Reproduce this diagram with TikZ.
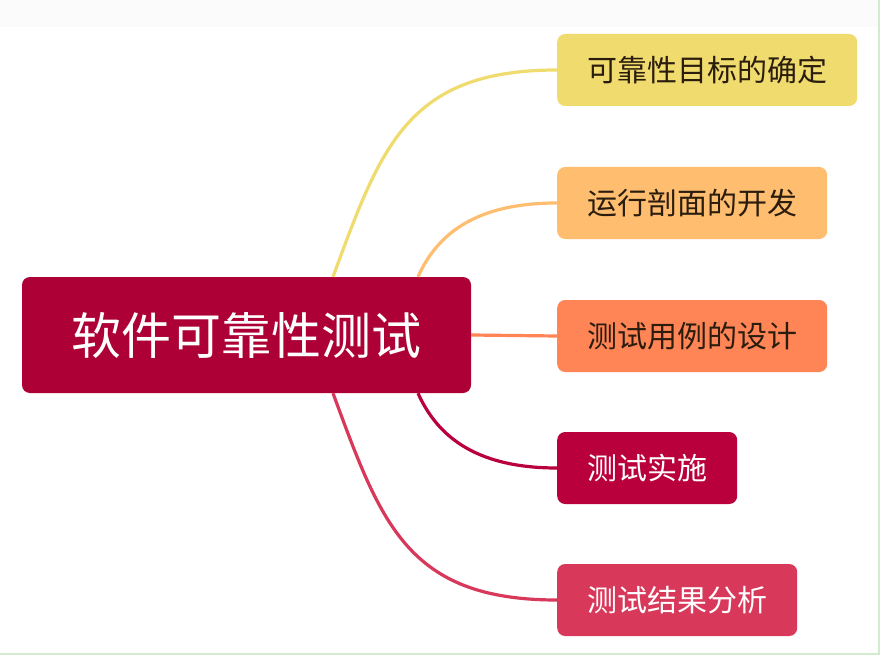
\documentclass[tikz,border=0pt]{standalone}
\usepackage{fontspec}
\newfontfamily\cjk{Noto Sans CJK SC}
\definecolor{rootred}{HTML}{AD0036}
\definecolor{goalc}{HTML}{F0DC6E}
\definecolor{profc}{HTML}{FFBD70}
\definecolor{casec}{HTML}{FF8456}
\definecolor{runc}{HTML}{B9003D}
\definecolor{anac}{HTML}{D8385A}
\definecolor{darktext}{HTML}{2B1D0E}
\definecolor{edgegreen}{HTML}{D3ECCF}
\definecolor{topband}{HTML}{FBFBFB}
\begin{document}
\begin{tikzpicture}[x=1pt,y=-1pt,
    box/.style={rounded corners=8pt,minimum height=72pt,inner xsep=30pt,inner ysep=0pt,anchor=west,font=\cjk\fontsize{30}{36}\selectfont},
    link/.style={line width=3.2pt}]
    \useasboundingbox (0,0) rectangle (880,655);
    \fill[white] (0,0) rectangle (880,655);
    \fill[topband] (0,0) rectangle (880,27);
    \fill[edgegreen] (877.5,0) rectangle (880,655);
    \fill[edgegreen] (0,652.5) rectangle (880,655);
    \node[rounded corners=8pt,fill=rootred,text=white,minimum width=449pt,minimum height=116pt,inner sep=0pt,font=\cjk\fontsize{50}{60}\selectfont] (T) at (246.5,335) {软件可靠性测试};
    \node[box,fill=goalc,text=darktext] (A) at (557,70) {可靠性目标的确定};
    \node[box,fill=profc,text=darktext] (B) at (557,203) {运行剖面的开发};
    \node[box,fill=casec,text=darktext] (C) at (557,336) {测试用例的设计};
    \node[box,fill=runc,text=white] (D) at (557,468) {测试实施};
    \node[box,fill=anac,text=white] (E) at (557,600) {测试结果分析};
    \draw[link,goalc] ([xshift=86.5pt]T.north) .. controls +(48,-130) and +(-150,0) .. (A.west);
    \draw[link,profc] ([xshift=171.5pt]T.north) .. controls +(18,-40) and +(-85,0) .. (B.west);
    \draw[link,casec] (T.east) -- (C.west);
    \draw[link,runc] ([xshift=171.5pt]T.south) .. controls +(18,40) and +(-85,0) .. (D.west);
    \draw[link,anac] ([xshift=86.5pt]T.south) .. controls +(48,130) and +(-150,0) .. (E.west);
\end{tikzpicture}
\end{document}
